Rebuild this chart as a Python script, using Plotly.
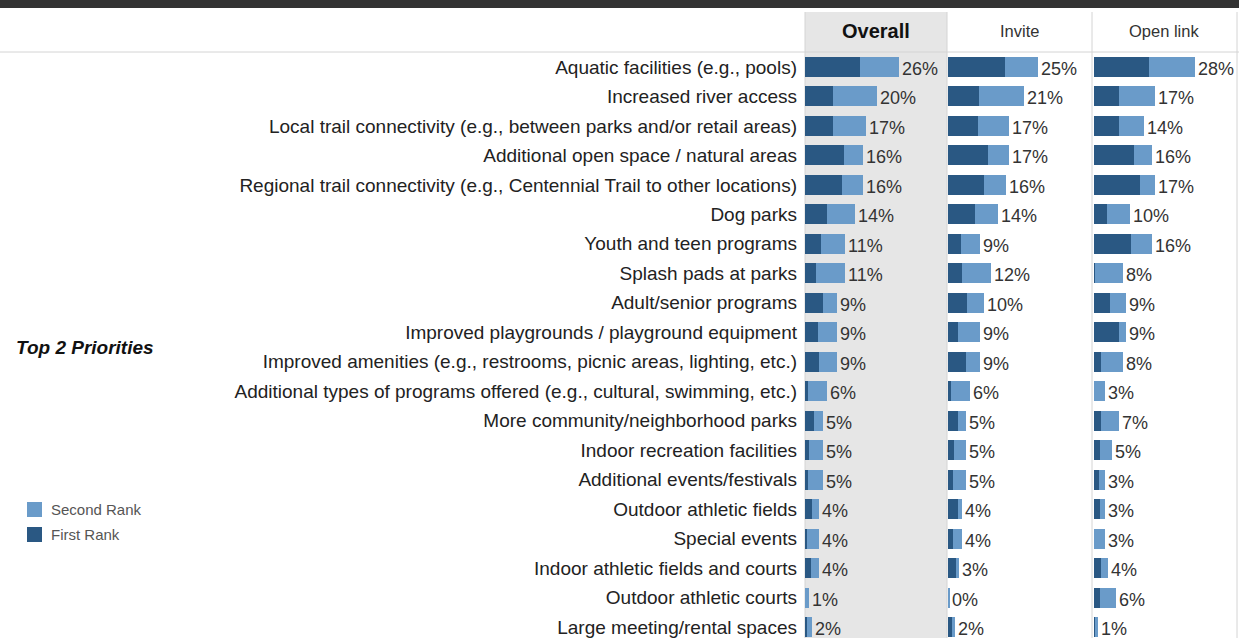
import plotly.graph_objects as go

W, H = 1239, 638

categories = [
    "Aquatic facilities (e.g., pools)",
    "Increased river access",
    "Local trail connectivity (e.g., between parks and/or retail areas)",
    "Additional open space / natural areas",
    "Regional trail connectivity (e.g., Centennial Trail to other locations)",
    "Dog parks",
    "Youth and teen programs",
    "Splash pads at parks",
    "Adult/senior programs",
    "Improved playgrounds / playground equipment",
    "Improved amenities (e.g., restrooms, picnic areas, lighting, etc.)",
    "Additional types of programs offered (e.g., cultural, swimming, etc.)",
    "More community/neighborhood parks",
    "Indoor recreation facilities",
    "Additional events/festivals",
    "Outdoor athletic fields",
    "Special events",
    "Indoor athletic fields and courts",
    "Outdoor athletic courts",
    "Large meeting/rental spaces",
]

panels = ["Overall", "Invite", "Open link"]

# Top-2 totals (printed labels) per panel
overall_total = [26, 20, 17, 16, 16, 14, 11, 11, 9, 9, 9, 6, 5, 5, 5, 4, 4, 4, 1, 2]
invite_total = [25, 21, 17, 17, 16, 14, 9, 12, 10, 9, 9, 6, 5, 5, 5, 4, 4, 3, 0, 2]
openlink_total = [28, 17, 14, 16, 17, 10, 16, 8, 9, 9, 8, 3, 7, 5, 3, 3, 3, 4, 6, 1]

# First-rank share (estimated from bars)
overall_first = [15.4, 7.8, 7.8, 10.7, 10.3, 6.0, 4.5, 3.1, 4.9, 3.7, 4.0, 0.7, 2.5, 1.2, 0.7, 2.0, 0.5, 1.7, 0.1, 0.5]
invite_first = [15.7, 8.7, 8.2, 11.1, 9.9, 7.4, 3.7, 4.0, 5.4, 2.9, 5.0, 0.8, 2.9, 1.6, 1.3, 2.9, 1.3, 2.2, 0.0, 1.1]
openlink_first = [15.3, 7.0, 7.0, 11.1, 12.8, 3.7, 10.3, 0.4, 4.4, 7.0, 1.9, 0.0, 1.9, 1.7, 1.5, 1.7, 0.0, 1.9, 1.7, 0.2]

totals = [overall_total, invite_total, openlink_total]
firsts = [overall_first, invite_first, openlink_first]

DARK = "#2a5883"
LIGHT = "#6a9bc9"
FONT = "Arial, Liberation Sans, sans-serif"

# pixel geometry of the three panels
col_edges = [805, 947, 1092, 1237]
bar_starts = [805, 948, 1094]
px_per_pct = 3.6

fig = go.Figure()
annotations = []

for i in range(3):
    xa = "x" if i == 0 else f"x{i+1}"
    first = firsts[i]
    total = totals[i]
    second = [max(t - f, 0.3 if t > 0 else 0.35) for t, f in zip(total, first)]
    fig.add_trace(go.Bar(
        y=categories, x=first, orientation="h", marker_color=DARK,
        marker_line_width=0, width=0.68, xaxis=xa, yaxis="y",
        name="First Rank", showlegend=False, hoverinfo="skip"))
    fig.add_trace(go.Bar(
        y=categories, x=second, orientation="h", marker_color=LIGHT,
        marker_line_width=0, width=0.68, xaxis=xa, yaxis="y",
        name="Second Rank", showlegend=False, hoverinfo="skip"))
    for cat, f, s, t in zip(categories, first, second, total):
        annotations.append(dict(
            text=f"{t}%", x=f + s, y=cat, xref=xa, yref="y",
            xanchor="left", yanchor="middle", xshift=1, yshift=-2,
            showarrow=False,
            font=dict(family=FONT, size=18, color="#333333")))

# y axis: rows centred from y=67 (row 0) to y=627 (row 19)
step = (627 - 67) / 19
top_idx = -(67 - 52) / step
bot_idx = 19 + (H - 627) / step

layout = dict(
    width=W, height=H,
    margin=dict(l=0, r=0, t=0, b=0),
    paper_bgcolor="white", plot_bgcolor="rgba(0,0,0,0)",
    barmode="stack",
    font=dict(family=FONT, size=16, color="#333333"),
    yaxis=dict(
        domain=[0, 1 - 52 / H], range=[bot_idx, top_idx],
        categoryorder="array", categoryarray=categories,
        showgrid=False, zeroline=False, showline=False, ticks="",
        ticklabelstandoff=7, anchor="x",
        tickfont=dict(family=FONT, size=19, color="#222222"),
    ),
)
for i in range(3):
    key = "xaxis" if i == 0 else f"xaxis{i+1}"
    x0, x1 = col_edges[i], col_edges[i + 1]
    lo = -(bar_starts[i] - x0) / px_per_pct
    hi = (x1 - bar_starts[i]) / px_per_pct
    layout[key] = dict(
        domain=[x0 / W, x1 / W], range=[lo, hi],
        showgrid=False, zeroline=False, showline=False,
        showticklabels=False, ticks="", anchor="y", fixedrange=True,
    )
fig.update_layout(**layout)

def px(x):
    return x / W

def py(y):
    return 1 - y / H

shapes = []
# grey background for Overall column
shapes.append(dict(type="rect", xref="paper", yref="paper",
                   x0=px(805), x1=px(947), y0=0, y1=py(12),
                   fillcolor="#e6e6e6", line_width=0, layer="below"))
# dark band at top
shapes.append(dict(type="rect", xref="paper", yref="paper",
                   x0=0, x1=1, y0=py(8), y1=1,
                   fillcolor="#333333", line_width=0, layer="above"))
# header bottom line
shapes.append(dict(type="line", xref="paper", yref="paper",
                   x0=0, x1=1, y0=py(52), y1=py(52),
                   line=dict(color="#d4d4d4", width=1), layer="below"))
# column separators
for xe in col_edges:
    shapes.append(dict(type="line", xref="paper", yref="paper",
                       x0=px(xe), x1=px(xe), y0=0, y1=py(12),
                       line=dict(color="#d4d4d4", width=1), layer="below"))
# legend swatches
shapes.append(dict(type="rect", xref="paper", yref="paper",
                   x0=px(27), x1=px(42), y0=py(517), y1=py(502),
                   fillcolor=LIGHT, line_width=0))
shapes.append(dict(type="rect", xref="paper", yref="paper",
                   x0=px(27), x1=px(42), y0=py(542), y1=py(527),
                   fillcolor=DARK, line_width=0))
fig.update_layout(shapes=shapes)

header_centres = [876, 1019, 1164]
for name, cx in zip(panels, header_centres):
    bold = name == "Overall"
    annotations.append(dict(
        text=f"<b>{name}</b>" if bold else name,
        x=px(cx), y=py(31), xref="paper", yref="paper",
        xanchor="center", yanchor="middle", showarrow=False,
        font=dict(family=FONT, size=20 if bold else 16.5,
                  color="#111111" if bold else "#333333")))
annotations.append(dict(
    text="<b><i>Top 2 Priorities</i></b>", x=px(14), y=py(347),
    xref="paper", yref="paper", xanchor="left", yanchor="middle",
    showarrow=False, font=dict(family=FONT, size=19, color="#111111")))
annotations.append(dict(
    text="Second Rank", x=px(49), y=py(509), xref="paper", yref="paper",
    xanchor="left", yanchor="middle", showarrow=False,
    font=dict(family=FONT, size=15, color="#555555")))
annotations.append(dict(
    text="First Rank", x=px(49), y=py(534), xref="paper", yref="paper",
    xanchor="left", yanchor="middle", showarrow=False,
    font=dict(family=FONT, size=15, color="#555555")))
fig.update_layout(annotations=annotations)

fig.write_html("out.html")
